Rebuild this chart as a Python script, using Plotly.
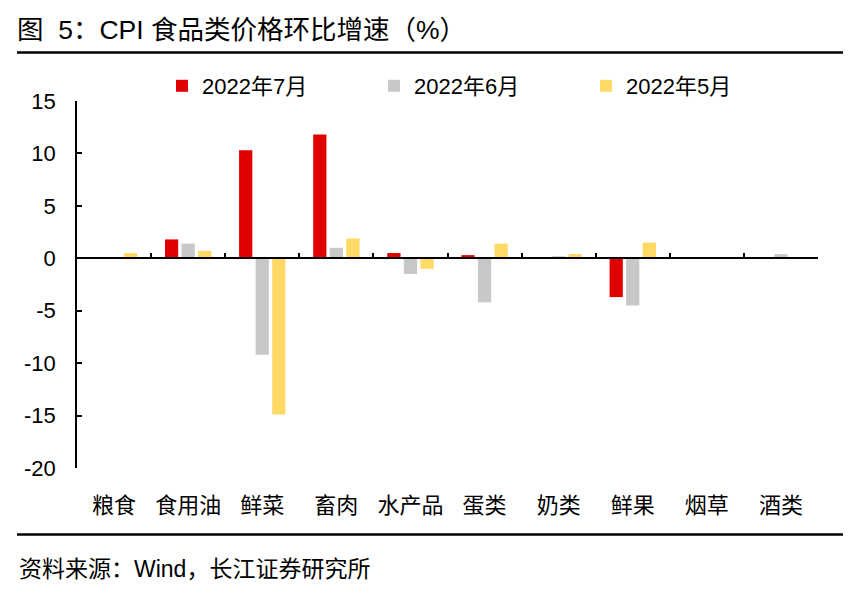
import plotly.graph_objects as go

categories = ["粮食", "食用油", "鲜菜", "畜肉", "水产品", "蛋类", "奶类", "鲜果", "烟草", "酒类"]
jul_2022 = [0.1, 1.8, 10.3, 11.8, 0.5, 0.3, 0.1, -3.7, 0.1, 0.1]
jun_2022 = [0.0, 1.4, -9.2, 1.0, -1.5, -4.2, 0.2, -4.5, 0.05, 0.4]
may_2022 = [0.5, 0.7, -14.9, 1.9, -1.0, 1.4, 0.4, 1.5, 0.0, 0.05]
series_names = ["2022年7月", "2022年6月", "2022年5月"]
colors = ["#E00000", "#C8C8C8", "#FFD966"]
y_ticks = [15, 10, 5, 0, -5, -10, -15, -20]
y_tick_labels = ["15", "10", "5", "0", "-5", "-10", "-15", "-20"]

W_PX, H_PX = 864, 602
L, R, T, B = 77, 46, 101, 134
PW = W_PX - L - R
PH = H_PX - T - B

def px_x(px):
    return (px - L) / PW

def px_y(py):
    return (H_PX - B - py) / PH

FONT = "Liberation Sans, Arial, Noto Sans CJK SC, sans-serif"

fig = go.Figure()
idx = list(range(len(categories)))
for name, vals, c in zip(series_names, [jul_2022, jun_2022, may_2022], colors):
    fig.add_trace(go.Bar(x=idx, y=vals, name=name, marker=dict(color=c, line=dict(width=0))))

# helper invisible trace to carry the zero-line axis
fig.add_trace(go.Scatter(x=[-0.5, len(categories) - 0.5], y=[None, None], xaxis="x2",
                         mode="lines", showlegend=False, hoverinfo="skip"))

fig.update_layout(
    width=W_PX, height=H_PX,
    margin=dict(l=L, r=R, t=T, b=B, autoexpand=False),
    paper_bgcolor="white", plot_bgcolor="white",
    font=dict(family=FONT, size=22, color="black"),
    barmode="group", bargap=0.33, bargroupgap=0.2,
    title=dict(text="图  5：CPI 食品类价格环比增速（%）", xref="container", yref="container",
               x=17 / W_PX, xanchor="left", y=1 - 30 / H_PX, yanchor="middle",
               font=dict(size=26.5, color="black", family=FONT)),
    legend=dict(orientation="h", x=px_x(162), xanchor="left", y=px_y(86), yanchor="middle",
                entrywidth=167, entrywidthmode="pixels", font=dict(size=22),
                bgcolor="rgba(0,0,0,0)", itemclick=False),
    xaxis=dict(range=[-0.5, len(categories) - 0.5], tickvals=idx, ticktext=categories,
               showline=False, ticks="", showgrid=False, zeroline=False, automargin=False,
               ticklabelstandoff=22, tickfont=dict(size=22)),
    xaxis2=dict(overlaying="x", anchor="free", position=20 / 35, range=[-0.5, len(categories) - 0.5],
                tickvals=[i - 0.5 for i in range(len(categories) + 1)], ticks="inside", ticklen=5,
                tickwidth=1.5, tickcolor="black", showline=True, linecolor="black", linewidth=1.5,
                showticklabels=False, showgrid=False, zeroline=False, automargin=False),
    yaxis=dict(range=[-20, 15], tickvals=y_ticks, ticktext=y_tick_labels, ticks="inside", ticklen=5,
               tickwidth=1.5, tickcolor="black", showline=True, linecolor="black", linewidth=1.5,
               showgrid=False, zeroline=False, automargin=False, ticklabelstandoff=15,
               tickfont=dict(size=22)),
    shapes=[
        dict(type="line", xref="paper", yref="paper", x0=px_x(17), x1=px_x(843),
             y0=px_y(52.5), y1=px_y(52.5), line=dict(color="black", width=2.5)),
        dict(type="line", xref="paper", yref="paper", x0=px_x(17), x1=px_x(843),
             y0=px_y(534.5), y1=px_y(534.5), line=dict(color="black", width=2.5)),
    ],
    annotations=[
        dict(text="资料来源：Wind，长江证券研究所", xref="paper", yref="paper",
             x=px_x(17), xanchor="left", y=px_y(569), yanchor="middle", showarrow=False,
             font=dict(size=23, color="black", family=FONT)),
    ],
)

fig.write_html("out.html", config={"displayModeBar": False},
               post_script="document.body.style.margin='0px';")
